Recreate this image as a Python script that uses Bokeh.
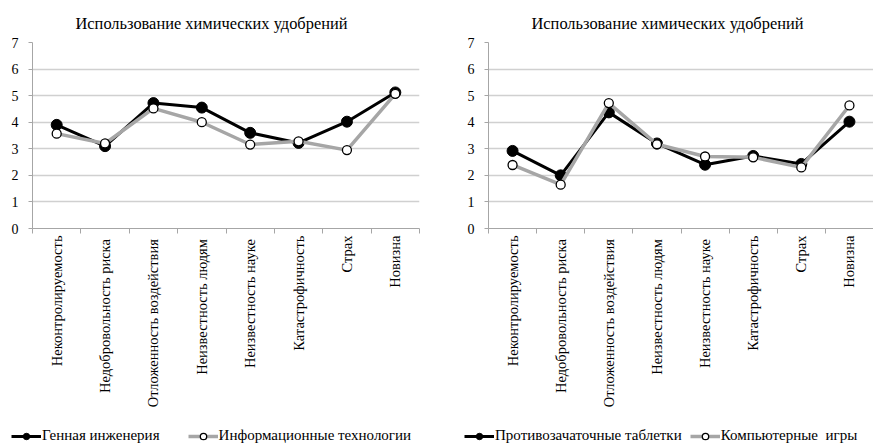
import numpy as np
from bokeh.plotting import figure
from bokeh.layouts import row, column
from bokeh.models import FixedTicker, Legend, LegendItem, Range1d
from bokeh.embed import file_html
from bokeh.resources import INLINE

title_text = "Использование химических удобрений"
categories = ["Неконтролируемость", "Недобровольность  риска", "Отложенность  воздействия",
              "Неизвестность  людям", "Неизвестность  науке", "Катастрофичность", "Страх", "Новизна"]

left_names = ["Генная инженерия", "Информационные технологии"]
left_black = [3.9, 3.1, 4.72, 4.55, 3.6, 3.22, 4.02, 5.12]
left_gray = [3.57, 3.2, 4.52, 4.0, 3.16, 3.28, 2.95, 5.07]

right_names = ["Противозачаточные таблетки", "Компьютерные  игры"]
right_black = [2.92, 2.0, 4.37, 3.2, 2.4, 2.73, 2.43, 4.02]
right_gray = [2.39, 1.65, 4.72, 3.17, 2.71, 2.68, 2.3, 4.63]

y_ticks = [0, 1, 2, 3, 4, 5, 6, 7]

FONT = "Liberation Serif"
GRID = "#d0d0d0"
AXIS = "#a6a6a6"
GRAY = "#a6a6a6"
CHART_H = 420
LEG_H = 24


def draw_series(p, xs, black, gray):
    l1 = p.line(xs, black, line_color="#000000", line_width=3)
    s1 = p.scatter(xs, black, size=11, fill_color="#000000", line_color="#000000")
    l2 = p.line(xs, gray, line_color=GRAY, line_width=3.5)
    s2 = p.scatter(xs, gray, size=9, fill_color="white", line_color="#000000", line_width=1.3)
    return l1, s1, l2, s2


def make_chart(width, left_border, right_border, black, gray):
    n = len(categories)
    xs = list(np.arange(n) + 0.5)
    p = figure(width=width, height=CHART_H, output_backend="svg", toolbar_location=None,
               x_range=Range1d(0, n), y_range=Range1d(0, 7),
               min_border_left=left_border, min_border_right=right_border,
               min_border_top=42, min_border_bottom=CHART_H - 228)
    p.outline_line_color = None
    p.background_fill_color = "white"
    p.border_fill_color = "white"

    p.title.text = title_text
    p.title.text_font = FONT
    p.title.text_font_size = "16.4px"
    p.title.text_font_style = "normal"
    p.title.align = "left"
    p.title.offset = 43
    p.title.standoff = 19
    p.title.text_color = "#000000"

    xa = p.xaxis[0]
    xa.ticker = FixedTicker(ticks=xs, minor_ticks=list(range(n + 1)))
    xa.major_label_overrides = {float(x): c for x, c in zip(xs, categories)}
    xa.major_label_orientation = np.pi / 2
    xa.major_tick_out = 0
    xa.major_tick_in = 0
    xa.minor_tick_out = 5
    xa.minor_tick_in = 0
    xa.minor_tick_line_color = AXIS
    xa.axis_line_color = AXIS
    xa.major_label_standoff = 2
    xa.major_label_text_font = FONT
    xa.major_label_text_font_size = "14.5px"
    xa.major_label_text_color = "#000000"

    ya = p.yaxis[0]
    ya.ticker = FixedTicker(ticks=y_ticks)
    ya.axis_line_color = AXIS
    ya.major_tick_out = 4
    ya.major_tick_in = 0
    ya.major_tick_line_color = AXIS
    ya.minor_tick_line_color = None
    ya.major_label_standoff = 10
    ya.major_label_text_font = FONT
    ya.major_label_text_font_size = "14px"
    ya.major_label_text_color = "#000000"

    p.xgrid.grid_line_color = None
    p.ygrid.ticker = FixedTicker(ticks=y_ticks[1:])
    p.ygrid.grid_line_color = GRID
    p.ygrid.grid_line_width = 1.5

    draw_series(p, xs, black, gray)
    return p


def make_legend(width, black, gray, names, leg_x, leg_spacing):
    n = len(categories)
    xs = list(np.arange(n) + 0.5)
    # legend strip: same series, drawn outside the visible ranges so only the legend shows
    lg = figure(width=width, height=LEG_H, output_backend="svg", toolbar_location=None,
                x_range=Range1d(-20, -19), y_range=Range1d(-20, -19),
                x_axis_location=None, y_axis_location=None,
                min_border=0, min_border_left=0, min_border_right=0,
                min_border_top=0, min_border_bottom=0)
    lg.outline_line_color = None
    lg.grid.visible = False
    l1, s1, l2, s2 = draw_series(lg, xs, black, gray)
    legend = Legend(items=[LegendItem(label=names[0], renderers=[l1, s1]),
                           LegendItem(label=names[1], renderers=[l2, s2])],
                    orientation="horizontal", location=(leg_x, 0),
                    padding=0, margin=0, spacing=leg_spacing, label_standoff=1,
                    glyph_width=30, glyph_height=16, label_height=16,
                    border_line_color=None, background_fill_alpha=0,
                    label_text_font=FONT, label_text_font_size="15px",
                    label_text_color="#000000")
    lg.add_layout(legend, "center")
    return lg


p1 = make_chart(436, 32, 17, left_black, left_gray)
p2 = make_chart(437, 52, 0, right_black, right_gray)
g1 = make_legend(436, left_black, left_gray, left_names, 11, 28)
g2 = make_legend(437, right_black, right_gray, right_names, 28, 8)

layout = column(row(p1, p2), row(g1, g2))
open("out.html", "w").write(file_html(layout, INLINE))
